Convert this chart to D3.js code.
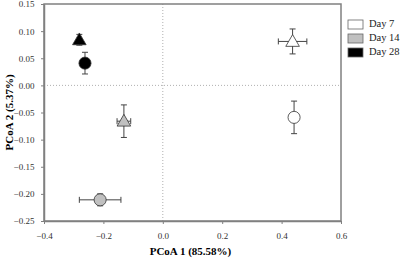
<!DOCTYPE html>
<html>
<head>
<meta charset="utf-8">
<script src="https://cdn.jsdelivr.net/npm/d3@7"></script>
<style>
  body { margin: 0; background: #fff; }
  text { font-family: "Liberation Serif", "Times New Roman", serif; }
</style>
</head>
<body>
<div class="chart"></div>
<script>
// data
const days = ["Day 7", "Day 14", "Day 28"];
const dayColors = ["#ffffff", "#c0c0c0", "#000000"];
const pointDay = ["Day 7", "Day 7", "Day 14", "Day 14", "Day 28", "Day 28"];
const pointShape = ["triangle", "circle", "triangle", "circle", "triangle", "circle"];
const pc1 = [0.437, 0.442, -0.131, -0.211, -0.281, -0.262];
const pc2 = [0.081, -0.059, -0.066, -0.211, 0.084, 0.041];
const pc1Err = [0.048, 0, 0.023, 0.07, 0, 0];
const pc2Err = [0.023, 0.03, 0.03, 0.011, 0.01, 0.02];
const xTicks = [-0.4, -0.2, 0.0, 0.2, 0.4, 0.6];
const yTicks = [0.15, 0.10, 0.05, 0.00, -0.05, -0.10, -0.15, -0.20, -0.25];

const points = pc1.map((v, i) => ({
    x: v, y: pc2[i], ex: pc1Err[i], ey: pc2Err[i],
    day: pointDay[i], shape: pointShape[i]
}));

const margin = {top: 4, right: 59, bottom: 39, left: 44};
const width = 400 - margin.left - margin.right,
      height = 260 - margin.top - margin.bottom;

const svg = d3.select(".chart")
    .append("svg")
    .attr("width", 400)
    .attr("height", 260)
    .append("g")
    .attr("transform", `translate(${margin.left},${margin.top})`);

const xScale = d3.scaleLinear().domain([-0.4, 0.6]).range([0, width]);
const yScale = d3.scaleLinear().domain([-0.25, 0.15]).range([height, 0]);
const colorScale = d3.scaleOrdinal().domain(days).range(dayColors);

// zero reference lines
svg.append("line")
    .attr("x1", xScale(0)).attr("x2", xScale(0))
    .attr("y1", 0).attr("y2", height)
    .attr("stroke", "#b0b0b0").attr("stroke-dasharray", "1,2");
svg.append("line")
    .attr("x1", 0).attr("x2", width)
    .attr("y1", yScale(0)).attr("y2", yScale(0))
    .attr("stroke", "#b0b0b0").attr("stroke-dasharray", "1,2");

// frame
svg.append("rect")
    .attr("width", width).attr("height", height)
    .attr("fill", "none").attr("stroke", "#808080").attr("stroke-width", 1.5);

const xAxis = d3.axisBottom(xScale).tickValues(xTicks).tickFormat(d3.format(".1f")).tickSize(3).tickSizeOuter(0);
const yAxis = d3.axisLeft(yScale).tickValues(yTicks).tickFormat(d3.format(".2f")).tickSize(3).tickSizeOuter(0);

const gx = svg.append("g").attr("transform", `translate(0,${height})`).call(xAxis);
const gy = svg.append("g").call(yAxis);
[gx, gy].forEach(g => {
    g.select(".domain").attr("stroke", "#808080").attr("stroke-width", 1.5);
    g.selectAll(".tick line").attr("stroke", "#808080");
    g.selectAll(".tick text").attr("font-size", 9).attr("fill", "#333")
        .attr("font-family", "Liberation Serif, serif");
});
gx.selectAll(".tick text").attr("dy", "1.3em");
gy.selectAll(".tick text").attr("dx", "-0.4em");

// error bars
const cap = 3;
const eb = svg.append("g").attr("stroke", "#444").attr("stroke-width", 1);
points.forEach(d => {
    const cx = xScale(d.x), cy = yScale(d.y);
    if (d.ey > 0) {
        const y1 = yScale(d.y + d.ey), y2 = yScale(d.y - d.ey);
        eb.append("line").attr("x1", cx).attr("x2", cx).attr("y1", y1).attr("y2", y2);
        eb.append("line").attr("x1", cx - cap).attr("x2", cx + cap).attr("y1", y1).attr("y2", y1);
        eb.append("line").attr("x1", cx - cap).attr("x2", cx + cap).attr("y1", y2).attr("y2", y2);
    }
    if (d.ex > 0) {
        const x1 = xScale(d.x - d.ex), x2 = xScale(d.x + d.ex);
        eb.append("line").attr("x1", x1).attr("x2", x2).attr("y1", cy).attr("y2", cy);
        eb.append("line").attr("x1", x1).attr("x2", x1).attr("y1", cy - cap).attr("y2", cy + cap);
        eb.append("line").attr("x1", x2).attr("x2", x2).attr("y1", cy - cap).attr("y2", cy + cap);
    }
});

// markers
const symTri = d3.symbol().type(d3.symbolTriangle).size(80);
const symCirc = d3.symbol().type(d3.symbolCircle).size(115);
svg.selectAll(".marker")
    .data(points)
    .enter()
    .append("path")
    .attr("class", "marker")
    .attr("transform", d => `translate(${xScale(d.x)},${yScale(d.y) + (d.shape === "triangle" ? 1 : 0)})`)
    .attr("d", d => d.shape === "triangle" ? symTri() : symCirc())
    .attr("fill", d => colorScale(d.day))
    .attr("stroke", "#333")
    .attr("stroke-width", 0.8);

// legend
const legend = svg.append("g").attr("transform", `translate(${width + 7},0)`);
legend.selectAll("rect")
    .data(days)
    .enter()
    .append("rect")
    .attr("x", 0)
    .attr("y", (d, i) => 16 + i * 14)
    .attr("width", 15)
    .attr("height", 9)
    .attr("fill", d => colorScale(d))
    .attr("stroke", "#666")
    .attr("stroke-width", 0.8);
legend.selectAll("text")
    .data(days)
    .enter()
    .append("text")
    .attr("x", 21)
    .attr("y", (d, i) => 21 + i * 14)
    .attr("dominant-baseline", "middle")
    .attr("font-size", 10.5)
    .attr("fill", "#222")
    .text(d => d);

// axis titles
svg.append("text")
    .attr("x", width / 2 - 2)
    .attr("y", height + 34)
    .attr("text-anchor", "middle")
    .attr("font-size", 11)
    .attr("font-weight", "bold")
    .text("PCoA 1 (85.58%)");
svg.append("text")
    .attr("transform", `translate(${-31},${yScale(-0.05)}) rotate(-90)`)
    .attr("text-anchor", "middle")
    .attr("font-size", 11)
    .attr("font-weight", "bold")
    .text("PCoA 2 (5.37%)");
</script>
</body>
</html>
